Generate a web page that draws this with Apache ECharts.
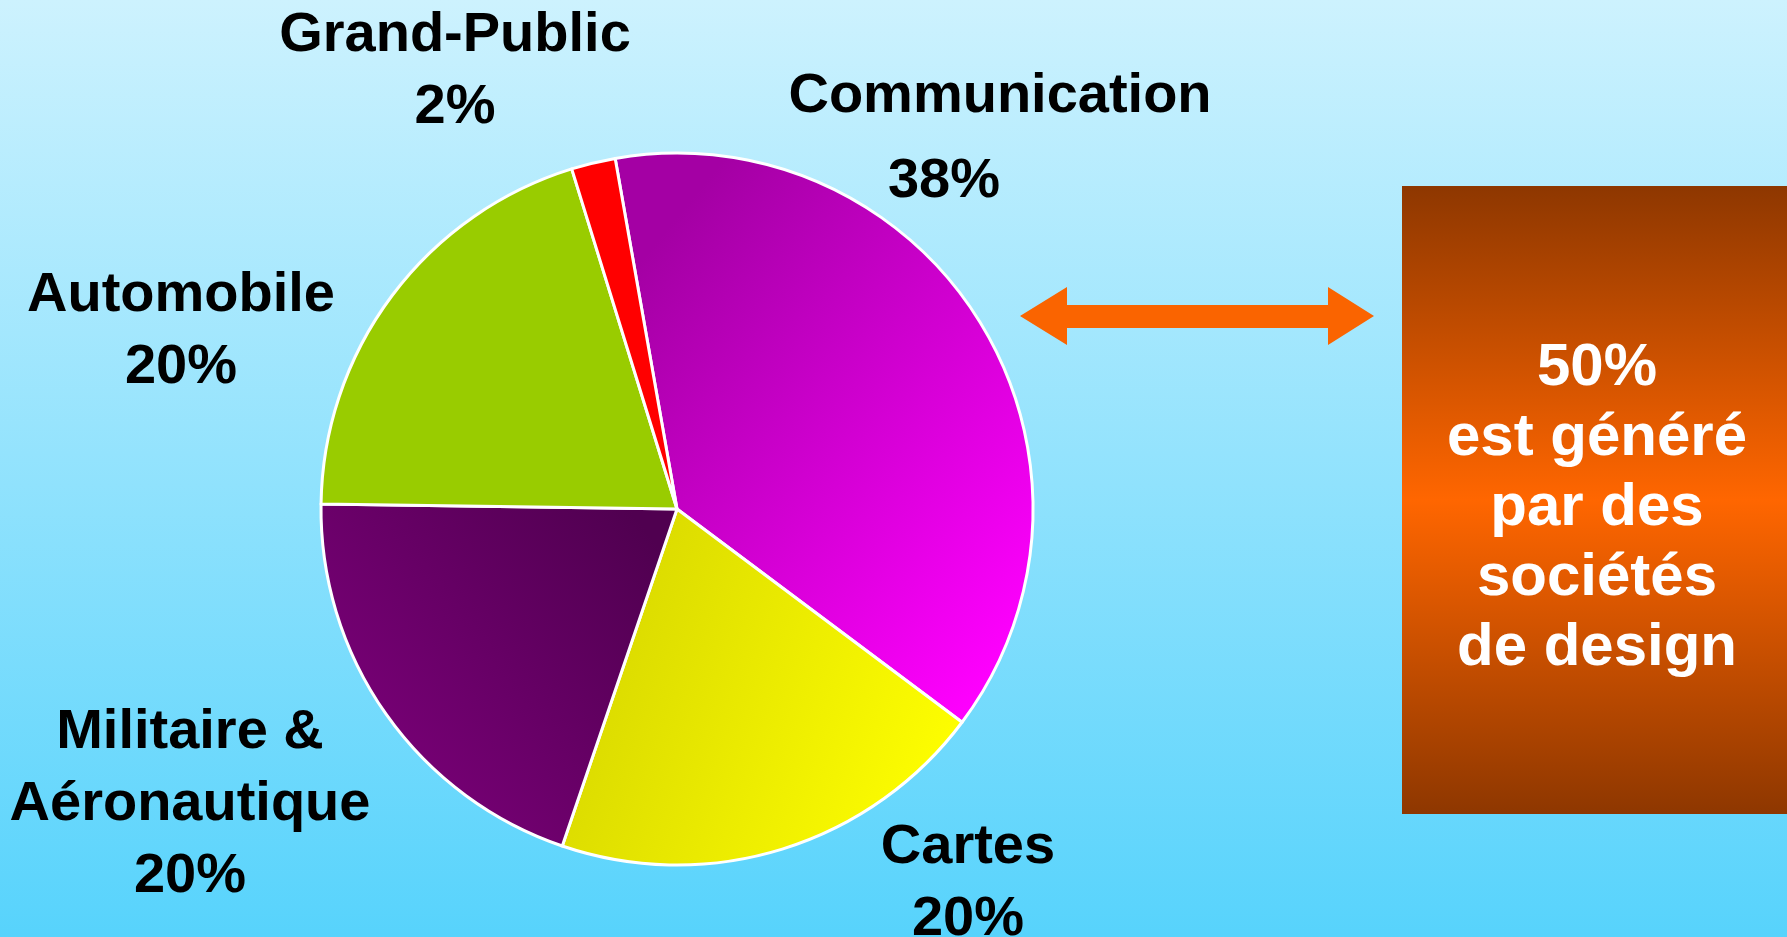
<!DOCTYPE html>
<html>
<head>
<meta charset="utf-8">
<style>
html,body{margin:0;padding:0;width:1787px;height:937px;overflow:hidden;}
#chart{width:1787px;height:937px;}
</style>
<script src="https://cdn.jsdelivr.net/npm/echarts@6/dist/echarts.min.js"></script>
</head>
<body>
<div id="chart"></div>
<script>
// ---- data ----
var categories = ['Communication', 'Cartes', 'Militaire &\nAéronautique', 'Automobile', 'Grand-Public'];
var shares = [38, 20, 20, 20, 2];
var boxLines = ['50%', 'est généré', 'par des', 'sociétés', 'de design'];

// ---- styles ----
function lg(x, y, x2, y2, c1, c2) {
  return new echarts.graphic.LinearGradient(x, y, x2, y2, [{offset: 0, color: c1}, {offset: 1, color: c2}]);
}
var sliceColors = [
  lg(0, 0.25, 1, 0.85, '#a400a4', '#ff00ff'),
  lg(0, 0.3, 1, 0.7, '#d6d600', '#ffff00'),
  lg(1, 0.2, 0.15, 0.9, '#500050', '#7c007a'),
  '#99cc00',
  '#ff0000'
];
// label anchor (block centre) in px, line heights, and right padding of the % line
var labelPos = [[1000, 139], [968, 884], [190, 805], [181, 332], [455, 72]];
var labelLH = [85, 72, 72, 72, 72];
var pctPad = [112, 0, 0, 0, 0];

var FONT = '"Liberation Sans", Arial, sans-serif';

var chart = echarts.init(document.getElementById('chart'), null, {renderer: 'canvas'});

var data = categories.map(function (c, i) {
  return {
    name: c,
    value: shares[i],
    itemStyle: {color: sliceColors[i]},
    label: {
      lineHeight: labelLH[i],
      rich: {
        n: {fontSize: 56, fontWeight: 'bold', fontFamily: FONT, color: '#000', lineHeight: labelLH[i]},
        p: {fontSize: 56, fontWeight: 'bold', fontFamily: FONT, color: '#000', lineHeight: labelLH[i],
            padding: [0, pctPad[i], 0, 0]}
      }
    }
  };
});

var option = {
  animation: false,
  backgroundColor: lg(0, 0, 0, 1, '#cdf2fe', '#57d3fc'),
  series: [{
    type: 'pie',
    center: [677, 509],
    radius: [0, 356],
    startAngle: 100,
    clockwise: true,
    avoidLabelOverlap: false,
    data: data,
    itemStyle: {borderColor: '#ffffff', borderWidth: 3},
    emphasis: {disabled: true},
    labelLine: {show: false},
    label: {
      show: true,
      position: 'outside',
      color: '#000000',
      fontFamily: FONT,
      fontWeight: 'bold',
      fontSize: 56,
      align: 'center',
      formatter: function (p) {
        return p.name.split('\n').map(function (s) { return '{n|' + s + '}'; }).join('\n') +
          '\n{p|' + p.value + '%}';
      }
    },
    labelLayout: function (p) {
      var pos = labelPos[p.dataIndex];
      return {x: pos[0], y: pos[1], align: 'center', verticalAlign: 'middle'};
    }
  }],
  graphic: [
    {
      type: 'rect',
      z: 1,
      shape: {x: 1402, y: 186, width: 390, height: 628},
      style: {
        fill: new echarts.graphic.LinearGradient(0, 0, 0, 1, [
          {offset: 0, color: '#8e3700'},
          {offset: 0.5, color: '#ff6600'},
          {offset: 1, color: '#8e3700'}
        ])
      }
    },
    {
      type: 'text',
      z: 2,
      x: 1597,
      y: 508,
      style: {
        text: boxLines.join('\n'),
        fill: '#ffffff',
        font: 'bold 60px ' + FONT,
        lineHeight: 70,
        align: 'center',
        verticalAlign: 'middle'
      }
    },
    {
      type: 'polygon',
      z: 1,
      shape: {
        points: [
          [1020, 316], [1067, 287], [1067, 305], [1328, 305], [1328, 287],
          [1374, 316], [1328, 345], [1328, 328], [1067, 328], [1067, 345]
        ]
      },
      style: {fill: '#fa6400'}
    }
  ]
};
chart.setOption(option);
</script>
</body>
</html>
